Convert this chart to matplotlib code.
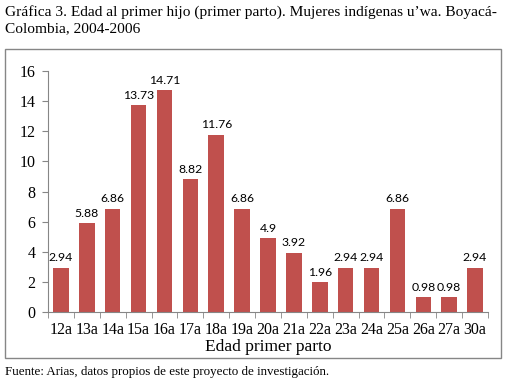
import matplotlib
matplotlib.use('Agg')
import matplotlib.pyplot as plt
from matplotlib.patches import Rectangle

categories = ['12a', '13a', '14a', '15a', '16a', '17a', '18a', '19a', '20a',
              '21a', '22a', '23a', '24a', '25a', '26a', '27a', '30a']
values = [2.94, 5.88, 6.86, 13.73, 14.71, 8.82, 11.76, 6.86, 4.9,
          3.92, 1.96, 2.94, 2.94, 6.86, 0.98, 0.98, 2.94]
yticks = [0, 2, 4, 6, 8, 10, 12, 14, 16]

serif = 'Liberation Serif'
fig = plt.figure(figsize=(5.07, 3.83), dpi=100)
ax = fig.add_axes([48/507, 1-312/383, 440/507, 241/383])

x = list(range(len(categories)))
ax.bar(x, values, width=0.6, color='#C0504D')
for xi, v in zip(x, values):
    ax.text(xi, v + 0.3, '%g' % v, ha='center', va='bottom', fontsize=8.8, family='Lato')

ax.set_xlim(-0.5, len(categories) - 0.5)
ax.set_ylim(0, 16)
ax.set_yticks(yticks)
ax.set_yticklabels([str(t) for t in yticks], family=serif, fontsize=11.5)
ax.set_xticks(x)
ax.set_xticklabels(categories, family=serif, fontsize=11.5)
ax.tick_params(axis='x', length=0, pad=7)
ax.set_xticks([i - 0.5 for i in range(len(categories) + 1)], minor=True)
ax.tick_params(axis='x', which='minor', length=4, color='#868686')
ax.tick_params(axis='y', length=4, color='#868686', pad=5)
for s in ['top', 'right']:
    ax.spines[s].set_visible(False)
for s in ['left', 'bottom']:
    ax.spines[s].set_color('#868686')
ax.set_xlabel('Edad primer parto', family=serif, fontsize=12.5, labelpad=1)

fig.patches.append(Rectangle((5/507, 1-358/383), 496/507, 309/383, transform=fig.transFigure,
                             fill=False, edgecolor='#868686', lw=1))

fig.text(5/507, 1-12/383, 'Gráfica 3. Edad al primer hijo (primer parto). Mujeres indígenas u’wa. Boyacá-',
         family=serif, fontsize=11.1, va='center')
fig.text(5/507, 1-29/383, 'Colombia, 2004-2006', family=serif, fontsize=11.1, va='center')
fig.text(5/507, 1-372/383, 'Fuente: Arias, datos propios de este proyecto de investigación.',
         family=serif, fontsize=9.4, va='center')

fig.savefig('out.png', dpi=100)
